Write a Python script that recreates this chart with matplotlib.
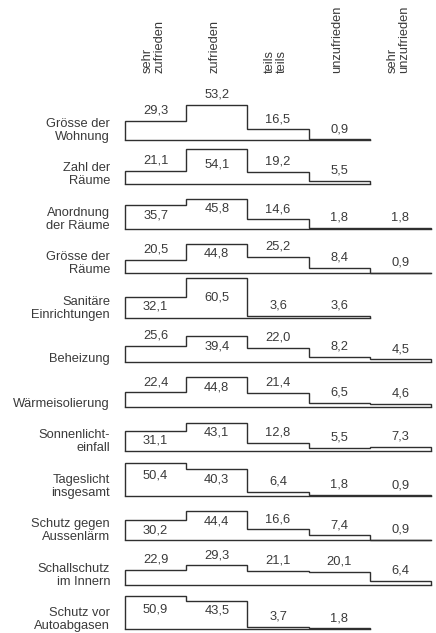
import matplotlib
matplotlib.use("Agg")
import matplotlib.pyplot as plt

plt.rcParams['font.family'] = ['Liberation Sans', 'DejaVu Sans']

# ---------------- data ----------------
categories = ["sehr\nzufrieden", "zufrieden", "teils\nteils", "unzufrieden", "sehr\nunzufrieden"]

items = ["Grösse der\nWohnung", "Zahl der\nRäume", "Anordnung\nder Räume", "Grösse der\nRäume",
         "Sanitäre\nEinrichtungen", "Beheizung", "Wärmeisolierung", "Sonnenlicht-\neinfall",
         "Tageslicht\ninsgesamt", "Schutz gegen\nAussenlärm", "Schallschutz\nim Innern",
         "Schutz vor\nAutoabgasen"]

groesse_wohnung = [29.3, 53.2, 16.5, 0.9]
zahl_raeume = [21.1, 54.1, 19.2, 5.5]
anordnung_raeume = [35.7, 45.8, 14.6, 1.8, 1.8]
groesse_raeume = [20.5, 44.8, 25.2, 8.4, 0.9]
sanitaere = [32.1, 60.5, 3.6, 3.6]
beheizung = [25.6, 39.4, 22.0, 8.2, 4.5]
waermeisolierung = [22.4, 44.8, 21.4, 6.5, 4.6]
sonnenlicht = [31.1, 43.1, 12.8, 5.5, 7.3]
tageslicht = [50.4, 40.3, 6.4, 1.8, 0.9]
aussenlaerm = [30.2, 44.4, 16.6, 7.4, 0.9]
schallschutz = [22.9, 29.3, 21.1, 20.1, 6.4]
autoabgase = [50.9, 43.5, 3.7, 1.8]

rows = [groesse_wohnung, zahl_raeume, anordnung_raeume, groesse_raeume, sanitaere,
        beheizung, waermeisolierung, sonnenlicht, tageslicht, aussenlaerm,
        schallschutz, autoabgase]

# ---------------- layout ----------------
W, H = 436, 633
DPI = 100
x_left, x_right = 125, 431
first_base, last_base = 140, 629.3
k = 0.66          # pixels per percent
gap = 10
cap = 29.5
ink = "#2f2f2f"
txt = "#3a3a3a"
fs = 9.3

fig = plt.figure(figsize=(W / DPI, H / DPI), dpi=DPI)
fig.patch.set_facecolor("white")

n_rows = len(rows)
step = (last_base - first_base) / (n_rows - 1)
ax_h = 40

for i, (label, vals) in enumerate(zip(items, rows)):
    base = first_base + i * step
    ax = fig.add_axes([x_left / W, (H - base) / H, (x_right - x_left) / W, ax_h / H])
    ax.set_xlim(0, len(categories))
    ax.set_ylim(0, ax_h / k)
    ax.axis("off")
    n = len(vals)
    edges = list(range(n + 1))
    ax.stairs(vals, edges, baseline=0, fill=False, color=ink, linewidth=1.0, clip_on=False)
    ax.plot([0, n], [0, 0], color=ink, linewidth=1.0, clip_on=False, solid_capstyle="projecting")
    for j, v in enumerate(vals):
        h_px = v * k
        if i == 0 or h_px + gap <= cap:
            off = h_px + gap
        else:
            off = min(h_px - 10, 20)
        ax.annotate(f"{v:.1f}".replace(".", ","), xy=(j + 0.5, 0), xytext=(0, off),
                    textcoords="offset pixels", ha="center", va="center",
                    fontsize=fs, color=txt, annotation_clip=False)
    ax.annotate(label, xy=(0, 0), xytext=(-15, 0), textcoords="offset pixels",
                ha="right", va="baseline", fontsize=fs, color=txt, linespacing=1.12,
                multialignment="right", annotation_clip=False)

col_w = (x_right - x_left) / len(categories)
for j, c in enumerate(categories):
    cx = x_left + (j + 0.5) * col_w - 2
    fig.text(cx / W, (H - 73) / H, c, rotation=90, ha="center", va="bottom",
             multialignment="left", fontsize=fs, color=txt, linespacing=1.0)

fig.savefig("out.png", dpi=DPI, facecolor="white")
